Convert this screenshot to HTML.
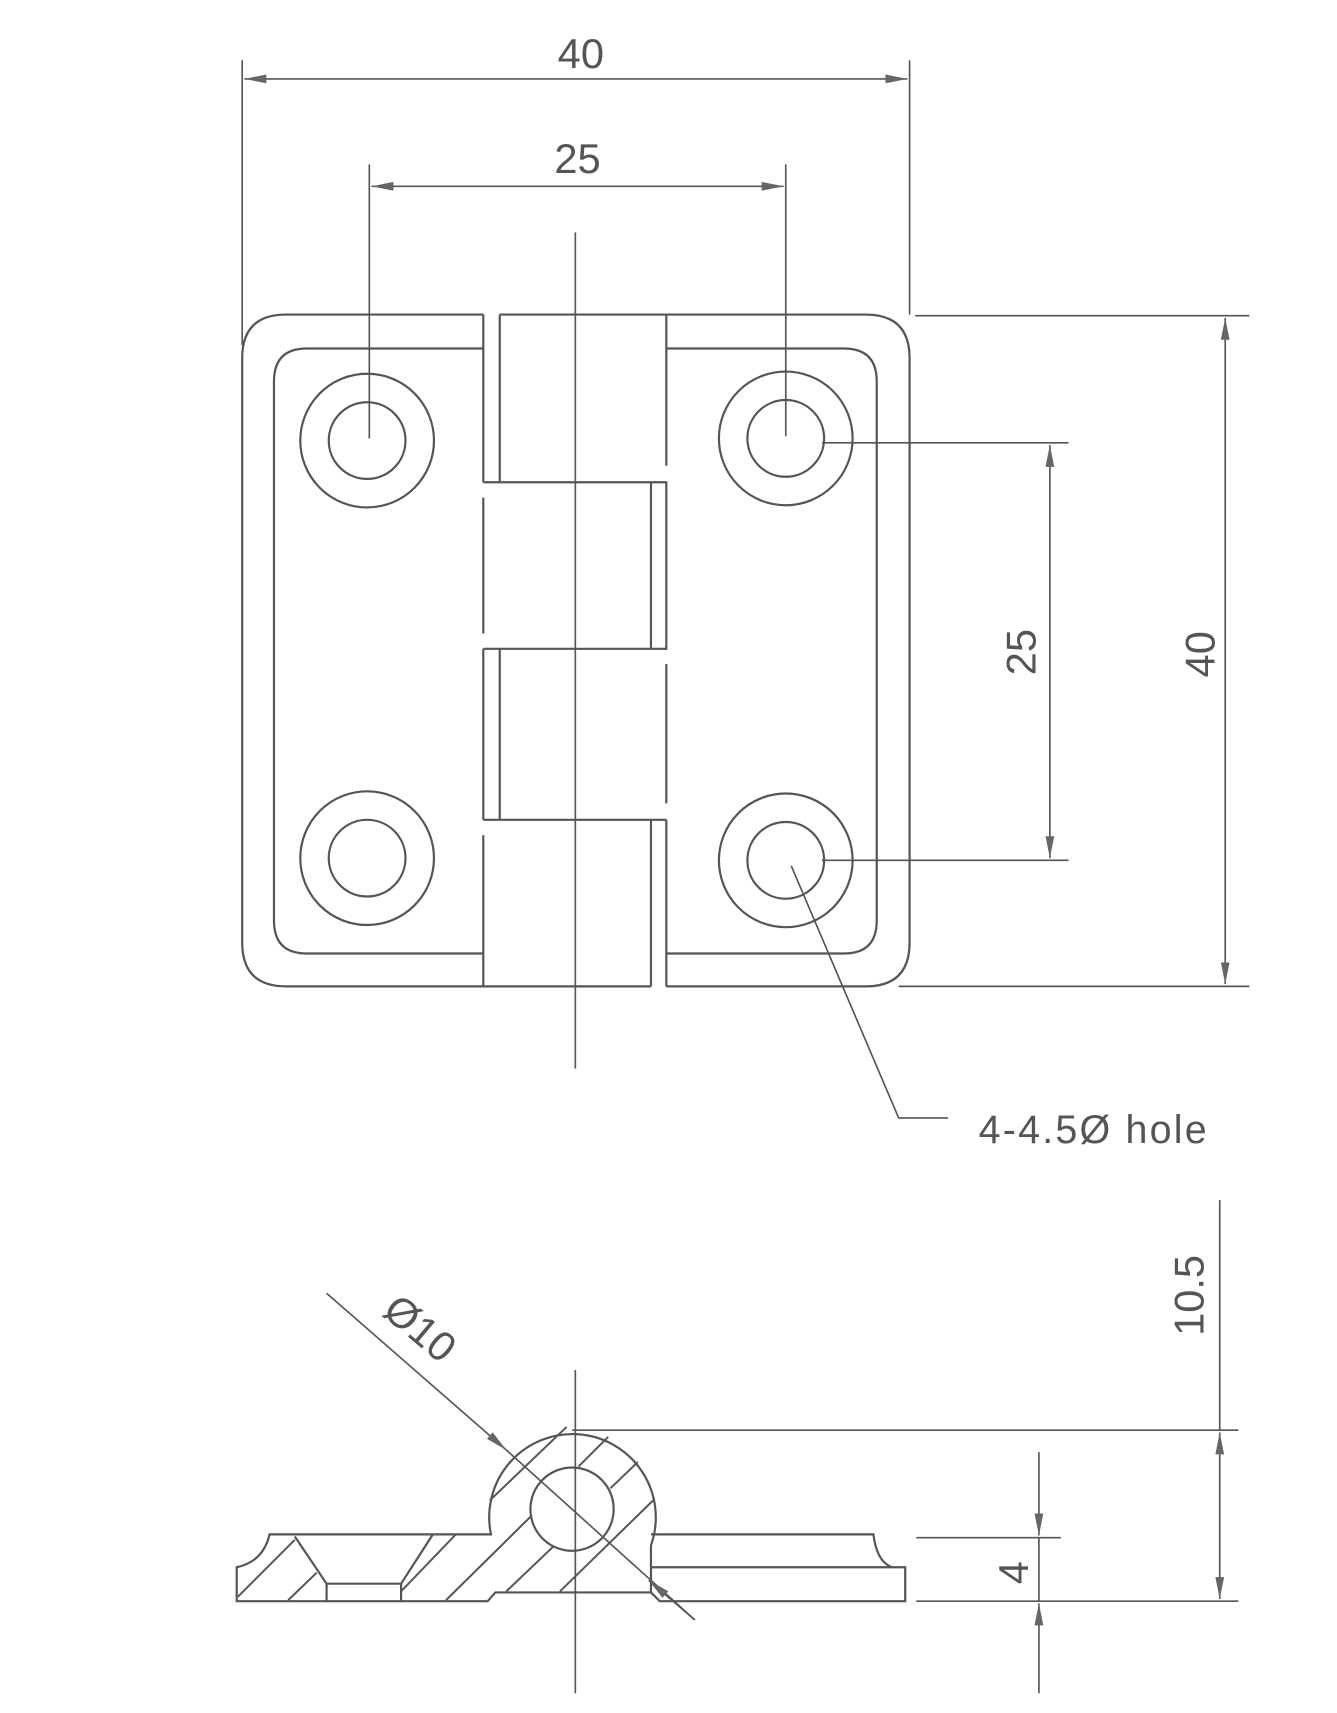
<!DOCTYPE html>
<html><head><meta charset="utf-8"><style>
html,body{margin:0;padding:0;background:#fff;}
svg{display:block;}
text{font-family:"Liberation Sans",sans-serif;fill:#555;}
</style></head><body>
<svg width="1337" height="1713" viewBox="0 0 1220 1563" preserveAspectRatio="none" xmlns="http://www.w3.org/2000/svg">
<defs>
<marker id="a" viewBox="0 0 20 8" refX="20" refY="4" markerWidth="20" markerHeight="8" markerUnits="userSpaceOnUse" orient="auto-start-reverse"><path d="M0,0 L20,4 L0,8 Z" fill="#666"/></marker>
</defs>
<g stroke="#555" stroke-width="2" fill="none">
<!-- top view outline -->
<path d="M441,287 L261,287 Q221,287 221,327 L221,860 Q221,900 261,900 L594,900"/>
<path d="M441,318 L280,318 Q250,318 250,348 L250,840 Q250,870 280,870 L441,870"/>
<path d="M456,287 L790,287 Q830,287 830,327 L830,860 Q830,900 790,900 L608,900"/>
<path d="M608,318 L770,318 Q800,318 800,348 L800,840 Q800,870 770,870 L608,870"/>
<line x1="441" y1="287" x2="441" y2="440"/>
<line x1="456" y1="287" x2="456" y2="440"/>
<line x1="608" y1="287" x2="608" y2="425"/>
<path d="M441,440 L608,440 L608,592 L441,592"/>
<line x1="594" y1="440" x2="594" y2="592"/>
<line x1="441" y1="454" x2="441" y2="578"/>
<line x1="441" y1="592" x2="441" y2="748"/>
<line x1="456" y1="592" x2="456" y2="748"/>
<line x1="608" y1="606" x2="608" y2="733"/>
<path d="M441,748 L608,748"/>
<line x1="441" y1="762" x2="441" y2="900"/>
<line x1="594" y1="748" x2="594" y2="900"/>
<line x1="608" y1="748" x2="608" y2="900"/>
<circle cx="335" cy="402" r="61"/><circle cx="335" cy="402" r="35"/>
<circle cx="717" cy="400" r="61"/><circle cx="717" cy="400" r="35"/>
<circle cx="335" cy="783" r="61"/><circle cx="335" cy="783" r="35"/>
<circle cx="717" cy="785" r="61"/><circle cx="717" cy="785" r="35"/>
<!-- centerline -->
<line x1="525" y1="212" x2="525" y2="975" stroke-width="1.5"/>
<!-- top dims -->
<line x1="221" y1="55" x2="221" y2="315" stroke-width="1.5"/>
<line x1="830" y1="55" x2="830" y2="287" stroke-width="1.5"/>
<line x1="223" y1="72" x2="828" y2="72" stroke-width="1.5" marker-start="url(#a)" marker-end="url(#a)"/>
<line x1="337" y1="150" x2="337" y2="400" stroke-width="1.5"/>
<line x1="717" y1="150" x2="717" y2="398" stroke-width="1.5"/>
<line x1="339" y1="170" x2="715" y2="170" stroke-width="1.5" marker-start="url(#a)" marker-end="url(#a)"/>
<!-- right dims -->
<line x1="835" y1="288" x2="1140" y2="288" stroke-width="1.5"/>
<line x1="820" y1="900" x2="1140" y2="900" stroke-width="1.5"/>
<line x1="1118" y1="290" x2="1118" y2="898" stroke-width="1.5" marker-start="url(#a)" marker-end="url(#a)"/>
<line x1="750" y1="404" x2="975" y2="404" stroke-width="1.5"/>
<line x1="750" y1="785" x2="975" y2="785" stroke-width="1.5"/>
<line x1="958" y1="406" x2="958" y2="783" stroke-width="1.5" marker-start="url(#a)" marker-end="url(#a)"/>
<!-- leader -->
<path d="M722,790 L820,1020 L865,1020" stroke-width="1.5"/>
<!-- bottom section -->
<path d="M216,1461 L216,1430 Q240,1425 246,1400 L448,1400 A76,76 0 1 1 594,1410 L594,1453 L452,1453 L445,1461 Z"/>
<circle cx="522" cy="1377" r="38"/>
<path d="M269,1402 L298,1445 L366,1445 L395,1400 M298,1445 L298,1461 M366,1445 L366,1461"/>
<g stroke-width="1.8">
<path d="M217,1457 L269,1405 M263,1460 L289,1435 M366,1452 L416,1400 M407,1460 L484,1384 M447,1369 L517,1302 M462,1452 L505,1411 M511,1452 L596,1369 M528,1338 L555,1311 M557,1358 L582,1334"/>
</g>
<path d="M594,1400 L797,1400 Q800,1425 814,1430 L826,1430 L826,1461 L602,1461 L594,1453"/>
<line x1="594" y1="1430" x2="814" y2="1430"/>
<line x1="525" y1="1250" x2="525" y2="1545" stroke-width="1.5"/>
<line x1="522" y1="1305" x2="1130" y2="1305" stroke-width="1.5"/>
<line x1="836" y1="1403" x2="968" y2="1403" stroke-width="1.5"/>
<line x1="836" y1="1461" x2="1130" y2="1461" stroke-width="1.5"/>
<line x1="1113" y1="1095" x2="1113" y2="1305" stroke-width="1.5"/>
<line x1="1113" y1="1307" x2="1113" y2="1459" stroke-width="1.5" marker-start="url(#a)" marker-end="url(#a)"/>
<line x1="948" y1="1325" x2="948" y2="1401" stroke-width="1.5" marker-end="url(#a)"/>
<line x1="948" y1="1403" x2="948" y2="1461" stroke-width="1.5"/>
<line x1="948" y1="1545" x2="948" y2="1463" stroke-width="1.5" marker-end="url(#a)"/>
<line x1="298" y1="1180" x2="462" y2="1323" stroke-width="1.5" marker-end="url(#a)"/>
<line x1="462" y1="1323" x2="634" y2="1478" stroke-width="1.5"/>
<line x1="634" y1="1478" x2="592" y2="1442" stroke-width="1.5" marker-end="url(#a)"/>
</g>
<text x="530" y="62" font-size="38" text-anchor="middle">40</text>
<text x="527" y="158" font-size="38" text-anchor="middle">25</text>
<text transform="translate(1108,597) rotate(-90)" font-size="38" text-anchor="middle">40</text>
<text transform="translate(945,595) rotate(-90)" font-size="38" text-anchor="middle">25</text>
<text x="893" y="1043" font-size="36" letter-spacing="2">4-4.5Ø hole</text>
<text transform="translate(1098,1182) rotate(-90)" font-size="38" text-anchor="middle">10.5</text>
<text transform="translate(938,1435) rotate(-90)" font-size="38" text-anchor="middle">4</text>
<text transform="translate(375,1222) rotate(40)" font-size="38" text-anchor="middle">Ø10</text>
</svg>
</body></html>
